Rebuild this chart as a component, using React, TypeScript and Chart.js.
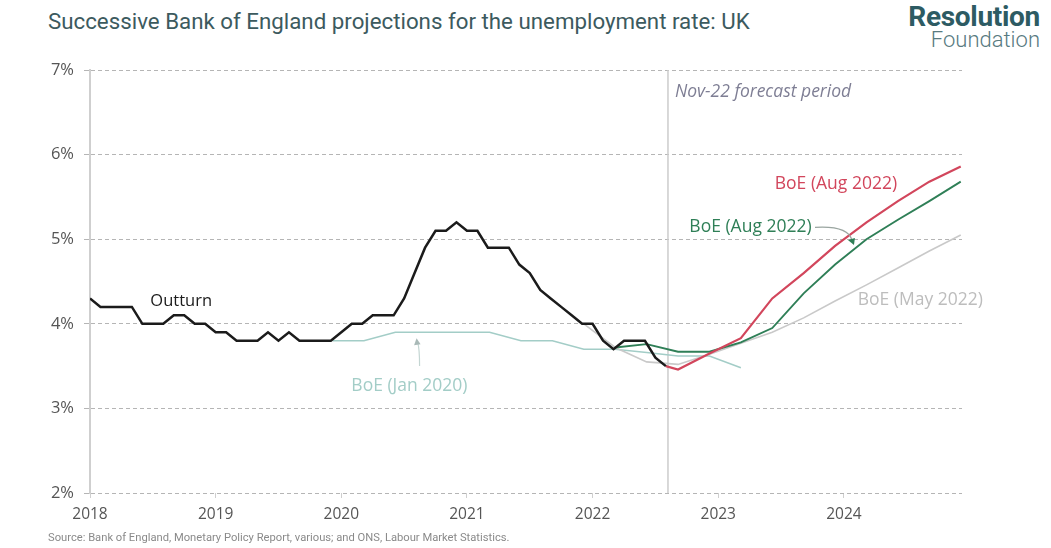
import React, { useEffect, useRef } from "react";
import { Chart, registerables } from "chart.js";
Chart.register(...registerables);

// ---------- data ----------
const yearTicks = [2018, 2019, 2020, 2021, 2022, 2023, 2024];
const percentTicks = [2, 3, 4, 5, 6, 7];

// monthly outturn, Jan 2018 .. Aug 2022
const outturnStartYear = 2018;
const outturnValues = [
  4.3, 4.2, 4.2, 4.2, 4.2, 4.0, 4.0, 4.0, 4.1, 4.1, 4.0, 4.0,
  3.9, 3.9, 3.8, 3.8, 3.8, 3.9, 3.8, 3.9, 3.8, 3.8, 3.8, 3.8,
  3.9, 4.0, 4.0, 4.1, 4.1, 4.1, 4.3, 4.6, 4.9, 5.1, 5.1, 5.2,
  5.1, 5.1, 4.9, 4.9, 4.9, 4.7, 4.6, 4.4, 4.3, 4.2, 4.1, 4.0,
  4.0, 3.8, 3.7, 3.8, 3.8, 3.8, 3.6, 3.5,
];

const jan2020Dates = [2019.93, 2020.18, 2020.43, 2020.68, 2020.93, 2021.18, 2021.43, 2021.68, 2021.93, 2022.18, 2022.43, 2022.68, 2022.93, 2023.18];
const jan2020Values = [3.8, 3.8, 3.9, 3.9, 3.9, 3.9, 3.8, 3.8, 3.7, 3.7, 3.66, 3.62, 3.62, 3.48];

const may2022Dates = [2021.93, 2022.18, 2022.43, 2022.68, 2022.93, 2023.18, 2023.43, 2023.68, 2023.93, 2024.18, 2024.43, 2024.68, 2024.93];
const may2022Values = [4.0, 3.72, 3.55, 3.52, 3.64, 3.77, 3.9, 4.07, 4.27, 4.46, 4.66, 4.86, 5.05];

const augGreenDates = [2022.18, 2022.43, 2022.68, 2022.93, 2023.18, 2023.43, 2023.68, 2023.93, 2024.18, 2024.43, 2024.68, 2024.93];
const augGreenValues = [3.72, 3.76, 3.67, 3.67, 3.78, 3.95, 4.36, 4.7, 5.0, 5.23, 5.45, 5.68];

const augRedDates = [2022.583, 2022.68, 2022.93, 2023.18, 2023.43, 2023.68, 2023.93, 2024.18, 2024.43, 2024.68, 2024.93];
const augRedValues = [3.5, 3.46, 3.65, 3.83, 4.3, 4.6, 4.92, 5.2, 5.45, 5.68, 5.86];

const forecastStart = 2022.6;

const COLORS = {
  outturn: "#1b1b1b",
  jan: "#a3cdc7",
  may: "#c9c9c9",
  green: "#2f7f57",
  red: "#d2465c",
  grid: "#b5b5b5",
  axis: "#cfcfcf",
  tick: "#555555",
};

const FONT = "'Open Sans', 'Noto Sans', sans-serif";

const toPts = (xs: number[], ys: number[]) => xs.map((x, i) => ({ x, y: ys[i] }));

const annotPlugin = {
  id: "annot",
  beforeDatasetsDraw(chart: any) {
    const { ctx, chartArea, scales } = chart;
    const x = scales.x.getPixelForValue(forecastStart);
    ctx.save();
    ctx.strokeStyle = "#cccccc";
    ctx.lineWidth = 1.5;
    ctx.beginPath();
    ctx.moveTo(x, chartArea.top);
    ctx.lineTo(x, chartArea.bottom);
    ctx.stroke();
    ctx.restore();
  },
  afterDatasetsDraw(chart: any) {
    const { ctx, scales } = chart;
    const px = (v: number) => scales.x.getPixelForValue(v);
    const py = (v: number) => scales.y.getPixelForValue(v);
    ctx.save();
    ctx.textBaseline = "middle";
    ctx.textAlign = "left";

    const label = (t: string, x: number, y: number, color: string, font = `17px ${FONT}`) => {
      ctx.font = font;
      ctx.fillStyle = color;
      ctx.fillText(t, px(x), py(y));
    };
    label("Nov-22 forecast period", forecastStart + 0.055, 6.74, "#7e7e94", `italic 17.5px ${FONT}`);
    label("Outturn", 2018.48, 4.27, "#1b1b1b", `16.5px ${FONT}`);
    label("BoE (Jan 2020)", 2020.08, 3.265, COLORS.jan, `17.5px ${FONT}`);
    label("BoE (Aug 2022)", 2023.45, 5.65, COLORS.red, `17.5px ${FONT}`);
    label("BoE (Aug 2022)", 2022.77, 5.14, COLORS.green, `17.5px ${FONT}`);
    label("BoE (May 2022)", 2024.11, 4.28, "#bdbdbd", `17.5px ${FONT}`);

    // arrow Jan 2020
    ctx.strokeStyle = "#c4d6d3";
    ctx.fillStyle = "#a9b9b7";
    ctx.lineWidth = 1.2;
    const ax = px(2020.615), ay0 = py(3.5), ay1 = py(3.83);
    ctx.beginPath();
    ctx.moveTo(ax + 1, ay0);
    ctx.quadraticCurveTo(ax + 1, ay1 + 10, ax - 1, ay1 + 4);
    ctx.stroke();
    ctx.beginPath();
    ctx.moveTo(ax - 2, ay1);
    ctx.lineTo(ax - 4.5, ay1 + 7);
    ctx.lineTo(ax + 2, ay1 + 6);
    ctx.closePath();
    ctx.fill();

    // arrow green
    const gx0 = px(2023.77), gy0 = py(5.14);
    const gx1 = px(2024.08), gy1 = py(4.93);
    ctx.strokeStyle = "#9aa5a0";
    ctx.beginPath();
    ctx.moveTo(gx0, gy0);
    ctx.quadraticCurveTo(gx1 - 6, gy0 - 2, gx1 - 2, gy1 - 5);
    ctx.stroke();
    ctx.fillStyle = COLORS.green;
    ctx.beginPath();
    ctx.moveTo(gx1, gy1);
    ctx.lineTo(gx1 - 6, gy1 - 5);
    ctx.lineTo(gx1 + 1, gy1 - 7);
    ctx.closePath();
    ctx.fill();
    ctx.restore();
  },
};

export default function App() {
  const ref = useRef<HTMLCanvasElement>(null);
  useEffect(() => {
    if (!ref.current) return;
    const outturnPts = outturnValues.map((v, i) => ({ x: outturnStartYear + i / 12, y: v }));
    const chart = new Chart(ref.current, {
      type: "line",
      data: {
        datasets: [
          { label: "Outturn", data: outturnPts, borderColor: COLORS.outturn, borderWidth: 2.5 },
          { label: "BoE (Aug 2022) red", data: toPts(augRedDates, augRedValues), borderColor: COLORS.red, borderWidth: 2.2 },
          { label: "BoE (Aug 2022) green", data: toPts(augGreenDates, augGreenValues), borderColor: COLORS.green, borderWidth: 1.9 },
          { label: "BoE (May 2022)", data: toPts(may2022Dates, may2022Values), borderColor: COLORS.may, borderWidth: 1.6 },
          { label: "BoE (Jan 2020)", data: toPts(jan2020Dates, jan2020Values), borderColor: COLORS.jan, borderWidth: 1.6 },
        ].map((d) => ({ ...d, pointRadius: 0, tension: 0, fill: false })),
      },
      options: {
        animation: false,
        responsive: true,
        maintainAspectRatio: false,
        layout: { padding: { left: 0, top: 70, right: 89, bottom: 0 } },
        plugins: { legend: { display: false }, tooltip: { enabled: false } },
        scales: {
          x: {
            type: "linear",
            min: 2018,
            max: 2024.94,
            afterBuildTicks: (s: any) => { s.ticks = yearTicks.map((v) => ({ value: v })); },
            afterFit: (s: any) => { s.height = 55; },
            ticks: { color: COLORS.tick, font: { family: FONT, size: 15.5 }, padding: 7, callback: (v: any) => String(v) },
            grid: { drawOnChartArea: false, drawTicks: true, tickLength: 5, color: COLORS.axis },
            border: { display: false },
          },
          y: {
            min: 2,
            max: 7,
            afterBuildTicks: (s: any) => { s.ticks = percentTicks.map((v) => ({ value: v })); },
            afterFit: (s: any) => { s.width = 90; },
            ticks: { color: COLORS.tick, font: { family: FONT, size: 16.5 }, padding: 10, callback: (v: any) => v + "%" },
            grid: { color: COLORS.grid, lineWidth: 1, tickLength: 6 },
            border: { display: true, color: COLORS.axis, width: 2, dash: [4, 3] },
          },
        },
      },
      plugins: [annotPlugin],
    } as any);
    return () => chart.destroy();
  }, []);

  return (
    <div style={{ position: "absolute", left: 0, top: 0, width: 1051, height: 548, background: "#fff", overflow: "hidden" }}>
      <div style={{ position: "absolute", left: 48, top: 8, fontFamily: "Roboto, sans-serif", fontSize: 22.3, color: "#3c5a5e", whiteSpace: "nowrap" }}>
        Successive Bank of England projections for the unemployment rate: UK
      </div>
      <div style={{ position: "absolute", right: 11, top: 3, textAlign: "right", fontFamily: "Roboto, sans-serif", lineHeight: 1 }}>
        <div style={{ fontSize: 28, fontWeight: 700, color: "#2d5b63", letterSpacing: -0.3 }}>Resolution</div>
        <div style={{ fontSize: 22, fontWeight: 300, color: "#587a80", marginTop: -2 }}>Foundation</div>
      </div>
      <div style={{ position: "absolute", width: 1051, height: 548, left: 0, top: 0 }}>
        <canvas ref={ref} />
      </div>
      <div style={{ position: "absolute", left: 48, top: 531, fontFamily: "Roboto, sans-serif", fontSize: 11.2, color: "#8a8a8a", whiteSpace: "nowrap" }}>
        Source: Bank of England, Monetary Policy Report, various; and ONS, Labour Market Statistics.
      </div>
    </div>
  );
}
